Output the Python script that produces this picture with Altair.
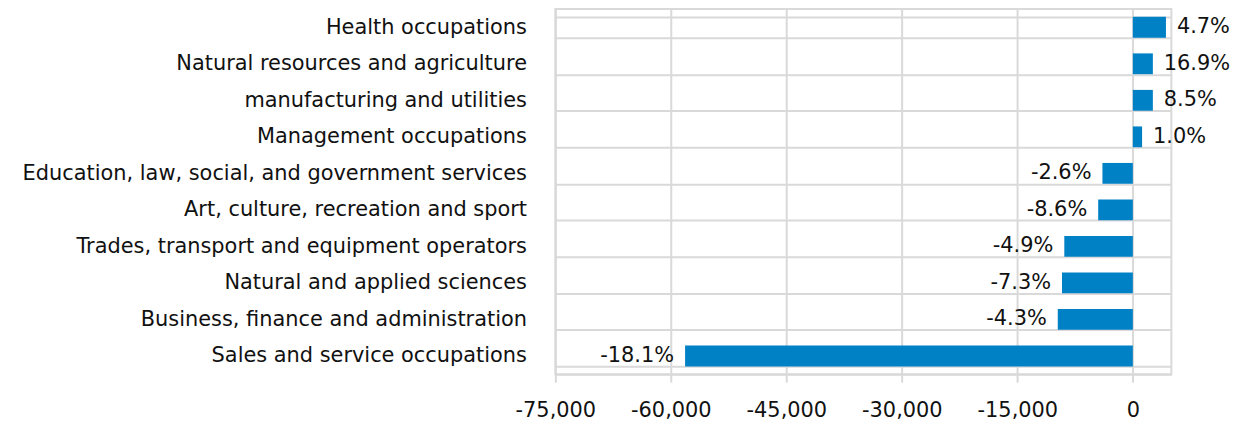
import altair as alt
import pandas as pd

categories = [
    "Health occupations",
    "Natural resources and agriculture",
    "manufacturing and utilities",
    "Management occupations",
    "Education, law, social, and government services",
    "Art, culture, recreation and sport",
    "Trades, transport and equipment operators",
    "Natural and applied sciences",
    "Business, finance and administration",
    "Sales and service occupations",
]
values = [4300, 2600, 2600, 1200, -3950, -4500, -8900, -9200, -9750, -58150]
pct_labels = ["4.7%", "16.9%", "8.5%", "1.0%", "-2.6%", "-8.6%", "-4.9%", "-7.3%", "-4.3%", "-18.1%"]
x_ticks = [-75000, -60000, -45000, -30000, -15000, 0]

df = pd.DataFrame({"category": categories, "value": values, "pct": pct_labels})

FONT = "DejaVu Sans"
FS = 21
GRID = "#d9d9d9"
BAR = "#0081C6"
TXT = "#111111"

y_enc = alt.Y(
    "category:N",
    sort=categories,
    title=None,
    scale=alt.Scale(paddingInner=0.43, paddingOuter=0.215),
    axis=alt.Axis(
        ticks=False,
        domain=False,
        grid=True,
        tickBand="extent",
        gridColor=GRID,
        gridWidth=2,
        labelFont=FONT,
        labelFontSize=FS,
        labelColor=TXT,
        labelPadding=29,
        labelLimit=0,
    ),
)
x_enc = alt.X(
    "value:Q",
    title=None,
    scale=alt.Scale(domain=[-75000, 5000], nice=False),
    axis=alt.Axis(
        values=x_ticks,
        labelExpr="replace(format(datum.value, ',.0f'), '\u2212', '-')",
        grid=True,
        gridColor=GRID,
        gridWidth=2,
        domainColor=GRID,
        domainWidth=2,
        tickColor=GRID,
        tickWidth=2,
        tickSize=8,
        labelFont=FONT,
        labelFontSize=FS,
        labelColor=TXT,
        labelPadding=17,
        labelFlush=False,
        labelOverlap=False,
        labelBound=False,
    ),
)

base = alt.Chart(df)
bars = base.mark_bar(color=BAR).encode(x=x_enc, y=y_enc)
pos_text = base.transform_filter("datum.value >= 0").mark_text(
    align="left", baseline="middle", dx=11, font=FONT, fontSize=FS, color=TXT
).encode(x="value:Q", y=alt.Y("category:N", sort=categories), text="pct:N")
neg_text = base.transform_filter("datum.value < 0").mark_text(
    align="right", baseline="middle", dx=-11, font=FONT, fontSize=FS, color=TXT
).encode(x="value:Q", y=alt.Y("category:N", sort=categories), text="pct:N")

chart = (
    alt.layer(bars, pos_text, neg_text)
    .properties(
        width=619,
        height=367,
        autosize=alt.AutoSizeParams(type="none"),
        padding={"left": 550, "top": 0, "right": 70, "bottom": 49},
    )
    .configure_view(stroke=GRID, strokeWidth=2)
)

chart.save("out.html", embed_options={"renderer": "svg", "actions": False})
